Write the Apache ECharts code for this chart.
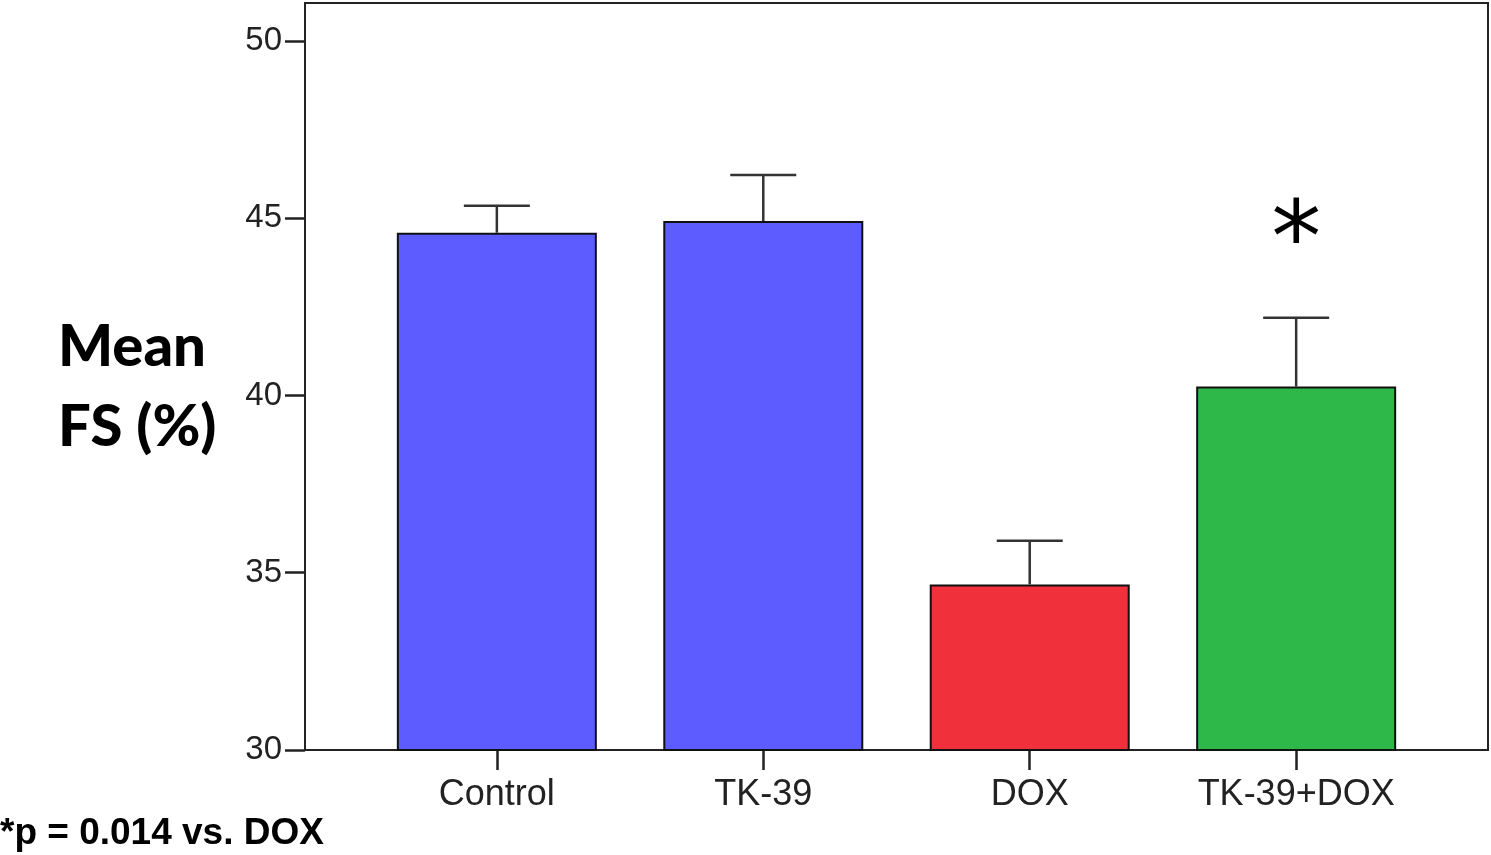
<!DOCTYPE html>
<html>
<head>
<meta charset="utf-8">
<script src="https://cdn.jsdelivr.net/npm/echarts@6/dist/echarts.min.js"></script>
<style>
html,body{margin:0;padding:0;background:#fff;}
#chart{width:1491px;height:855px;}
</style>
</head>
<body>
<div id="chart"></div>
<script>
// ---- data ----
const categories = ['Control', 'TK-39', 'DOX', 'TK-39+DOX'];
const means = [44.59, 44.92, 34.67, 40.25];
const errorTops = [45.35, 46.22, 35.90, 42.19];
const barColors = ['#5c5cff', '#5c5cff', '#f0303a', '#2eb84a'];
const annotations = ['', '', '', '*'];
const annotationY = [null, null, null, 44.9];
const yTicks = [30, 35, 40, 45, 50];
const catPositions = [1, 2, 3, 4];

const chart = echarts.init(document.getElementById('chart'), null, {renderer: 'canvas'});

const barData = means.map((v, i) => ({
  value: [catPositions[i], v],
  itemStyle: {color: barColors[i]}
}));
const errData = means.map((v, i) => [catPositions[i], v, errorTops[i], i]);

const option = {
  animation: false,
  backgroundColor: '#fff',
  grid: {
    left: 305, right: 3, top: 3, bottom: 105,
    show: true, borderColor: '#222', borderWidth: 2, backgroundColor: 'transparent'
  },
  xAxis: {
    type: 'value',
    min: 0.28, max: 4.72,
    splitLine: {show: false},
    axisLine: {show: true, lineStyle: {color: '#222', width: 2}},
    axisTick: {show: true, customValues: catPositions, length: 20, lineStyle: {color: '#222', width: 2.5}},
    axisLabel: {
      customValues: catPositions,
      formatter: v => categories[Math.round(v) - 1] || '',
      fontFamily: 'Liberation Sans, Arial, sans-serif',
      fontSize: 36, color: '#222', margin: 27
    }
  },
  yAxis: {
    type: 'value',
    min: 30, max: 51.07,
    splitLine: {show: false},
    axisLine: {show: true, lineStyle: {color: '#222', width: 2}},
    axisTick: {show: true, customValues: yTicks, length: 20, lineStyle: {color: '#222', width: 2.5}},
    axisLabel: {
      customValues: yTicks,
      fontFamily: '"Liberation Sans", Arial, sans-serif',
      fontSize: 33, color: '#222', margin: 23
    }
  },
  series: [
    {
      type: 'bar',
      data: barData,
      barWidth: 200,
      itemStyle: {borderColor: '#111', borderWidth: 2},
      z: 2
    },
    {
      type: 'custom',
      data: errData,
      z: 3,
      renderItem: function (params, api) {
        const x = api.value(0);
        const base = api.coord([x, api.value(1)]);
        const top = api.coord([x, api.value(2)]);
        const idx = api.value(3);
        const half = 33;
        const children = [
          {type: 'line', shape: {x1: base[0], y1: base[1], x2: top[0], y2: top[1]},
           style: {stroke: '#333', lineWidth: 2.5}},
          {type: 'line', shape: {x1: top[0] - half, y1: top[1], x2: top[0] + half, y2: top[1]},
           style: {stroke: '#333', lineWidth: 2.5}}
        ];
        if (annotations[idx] && annotationY[idx] != null) {
          const p = api.coord([x, annotationY[idx]]);
          children.push({
            type: 'text',
            style: {
              x: p[0], y: p[1] + 24, text: annotations[idx],
              fontFamily: '"DejaVu Sans", sans-serif', fontSize: 100, fill: '#000',
              align: 'center', verticalAlign: 'middle'
            }
          });
        }
        return {type: 'group', children: children};
      }
    }
  ],
  graphic: [
    {
      type: 'text', left: 58, top: 307,
      style: {
        text: 'Mean\nFS (%)',
        fontFamily: 'Lato, "Open Sans", sans-serif', fontWeight: 900,
        fontSize: 58, lineHeight: 80, fill: '#000', align: 'left'
      }
    },
    {
      type: 'text', left: 0, top: 815,
      style: {
        text: '*p = 0.014 vs. DOX',
        fontFamily: '"Liberation Sans", Arial, sans-serif', fontWeight: 'bold',
        fontSize: 37, fill: '#000'
      }
    }
  ]
};
chart.setOption(option);
</script>
</body>
</html>
